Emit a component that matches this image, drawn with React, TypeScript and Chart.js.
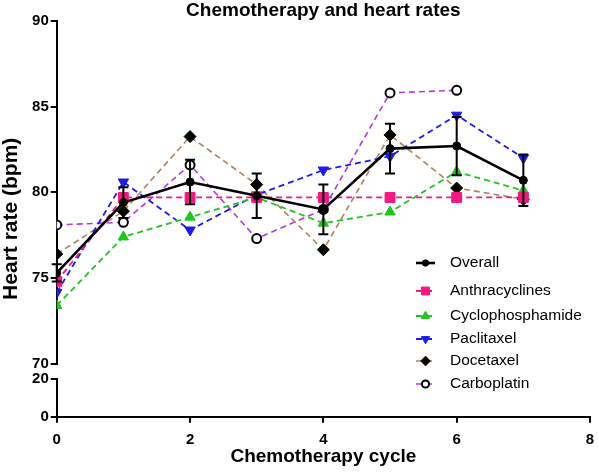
import React, { useEffect, useRef } from 'react';
import { Chart, registerables } from 'chart.js';
import { drawPoint } from 'chart.js/helpers';

Chart.register(...registerables);

const FONT = "'Liberation Sans', Arial, Helvetica, sans-serif";

const cycles = [0, 1, 2, 3, 4, 5, 6, 7];
const overall = [75.3, 79.4, 80.6, 79.8, 79.0, 82.55, 82.7, 80.7];
const overallErr = [0.5, 0.9, 1.3, 1.3, 1.45, 1.45, 1.7, 1.5];
const anthracyclines = [74.8, 79.7, 79.7, 79.7, 79.7, 79.7, 79.7, 79.7];
const cyclophosphamide = [73.4, 77.4, 78.55, 79.7, 78.2, 78.85, 81.2, 80.1];
const paclitaxel = [74.15, 80.6, 77.8, 79.85, 81.3, 82.1, 84.5, 82.0];
const docetaxel = [76.4, 78.9, 83.25, 80.45, 76.65, 83.35, 80.25, 79.6];
const carboplatin = [78.1, 78.25, 81.6, 77.3, 79.0, 85.8, 85.95, null];

const xTickValues = [0, 2, 4, 6, 8];
const yUpperTickValues = [70, 75, 80, 85, 90];
const yLowerTickValues = [0, 20];

const seriesNames = ['Overall', 'Anthracyclines', 'Cyclophosphamide', 'Paclitaxel', 'Docetaxel', 'Carboplatin'];

const toPoints = (arr: (number | null)[]) =>
  cycles.map((x, i) => ({ x, y: arr[i] })).filter((p) => p.y !== null);

const errorBarPlugin = {
  id: 'errorBars',
  afterDatasetsDraw(chart: any) {
    const { ctx } = chart;
    const xs = chart.scales.x;
    const ys = chart.scales.y;
    ctx.save();
    ctx.strokeStyle = '#000';
    ctx.lineWidth = 2;
    ctx.setLineDash([]);
    overall.forEach((v, i) => {
      const e = overallErr[i];
      const px = xs.getPixelForValue(cycles[i]);
      const top = ys.getPixelForValue(v + e);
      const bot = ys.getPixelForValue(v - e);
      ctx.beginPath();
      ctx.moveTo(px, top);
      ctx.lineTo(px, bot);
      ctx.moveTo(px - 5, top);
      ctx.lineTo(px + 5, top);
      ctx.moveTo(px - 5, bot);
      ctx.lineTo(px + 5, bot);
      ctx.stroke();
    });
    ctx.restore();
  },
};

const legendPlugin = {
  id: 'customLegend',
  afterDraw(chart: any) {
    const { ctx } = chart;
    const rows = [263, 291, 316, 339, 361, 384];
    ctx.save();
    chart.data.datasets.forEach((ds: any, i: number) => {
      const y = rows[i];
      ctx.beginPath();
      ctx.strokeStyle = ds.borderColor;
      ctx.lineWidth = ds.borderWidth;
      ctx.setLineDash(ds.borderDash || []);
      ctx.moveTo(416, y);
      ctx.lineTo(435, y);
      ctx.stroke();
      ctx.setLineDash([]);
      ctx.fillStyle = ds.pointBackgroundColor;
      ctx.strokeStyle = ds.pointBorderColor;
      ctx.lineWidth = ds.pointBorderWidth;
      drawPoint(ctx, {
        pointStyle: ds.pointStyle,
        rotation: ds.pointRotation || 0,
        radius: ds.pointRadius * 0.8,
        borderWidth: ds.pointBorderWidth,
      }, 425.5, y);
      ctx.fillStyle = '#000';
      ctx.font = `15.5px ${FONT}`;
      ctx.textBaseline = 'middle';
      ctx.textAlign = 'left';
      ctx.fillText(ds.label, 450, y);
    });
    ctx.restore();
  },
};

const tickFont = { family: FONT, size: 15, weight: 'bold' as const };

export default function App() {
  const ref = useRef<HTMLCanvasElement | null>(null);
  useEffect(() => {
    document.body.style.margin = '0';
    if (!ref.current) return;
    const dashed = [6, 4];
    const chart = new Chart(ref.current, {
      type: 'line',
      data: {
        datasets: [
          {
            label: seriesNames[0], data: toPoints(overall), yAxisID: 'y',
            borderColor: '#000', borderWidth: 2.6, pointStyle: 'circle', pointRadius: 4,
            pointBackgroundColor: '#000', pointBorderColor: '#000', pointBorderWidth: 1,
          },
          {
            label: seriesNames[1], data: toPoints(anthracyclines), yAxisID: 'y',
            borderColor: '#f01a80', borderWidth: 1.8, borderDash: dashed, pointStyle: 'rect', pointRadius: 7,
            pointBackgroundColor: '#f01a80', pointBorderColor: '#f01a80', pointBorderWidth: 1,
          },
          {
            label: seriesNames[2], data: toPoints(cyclophosphamide), yAxisID: 'y',
            borderColor: '#22c422', borderWidth: 1.8, borderDash: dashed, pointStyle: 'triangle', pointRadius: 6,
            pointBackgroundColor: '#22c422', pointBorderColor: '#22c422', pointBorderWidth: 1,
          },
          {
            label: seriesNames[3], data: toPoints(paclitaxel), yAxisID: 'y',
            borderColor: '#1c1ce6', borderWidth: 1.8, borderDash: dashed, pointStyle: 'triangle', pointRotation: 180, pointRadius: 6,
            pointBackgroundColor: '#1c1ce6', pointBorderColor: '#1c1ce6', pointBorderWidth: 1,
          },
          {
            label: seriesNames[4], data: toPoints(docetaxel), yAxisID: 'y',
            borderColor: '#a8845a', borderWidth: 1.6, borderDash: dashed, pointStyle: 'rectRot', pointRadius: 6,
            pointBackgroundColor: '#000', pointBorderColor: '#000', pointBorderWidth: 1,
          },
          {
            label: seriesNames[5], data: toPoints(carboplatin), yAxisID: 'y',
            borderColor: '#b03ce0', borderWidth: 1.6, borderDash: dashed, pointStyle: 'circle', pointRadius: 4.5,
            pointBackgroundColor: '#fff', pointBorderColor: '#000', pointBorderWidth: 2,
          },
        ] as any,
      },
      options: {
        responsive: false,
        animation: false,
        devicePixelRatio: 1,
        layout: { padding: { left: 0, right: 0, top: 0, bottom: 0 } },
        plugins: {
          legend: { display: false },
          tooltip: { enabled: false },
          title: {
            display: true,
            text: 'Chemotherapy and heart rates',
            color: '#000',
            fullSize: false,
            font: { family: FONT, size: 19, weight: 'bold', lineHeight: 1.1 },
            padding: { top: 0, bottom: 0 },
          },
        },
        scales: {
          x: {
            type: 'linear', min: 0, max: 8,
            afterBuildTicks: (s: any) => { s.ticks = xTickValues.map((v) => ({ value: v })); },
            ticks: { color: '#000', font: { ...tickFont, lineHeight: 2.3 }, padding: 0 },
            grid: { display: true, drawOnChartArea: false, drawTicks: true, tickLength: 6, color: '#000', lineWidth: 2 },
            border: { display: true, color: '#000', width: 2 },
            title: {
              display: true, text: 'Chemotherapy cycle', color: '#000',
              font: { family: FONT, size: 19, weight: 'bold' }, padding: { top: -12, bottom: 7 },
            },
          },
          y0: {
            type: 'linear', position: 'left', stack: 'hr', stackWeight: 38, min: 0, max: 20,
            afterBuildTicks: (s: any) => { s.ticks = yLowerTickValues.map((v) => ({ value: v })); },
            ticks: { color: '#000', font: tickFont, padding: 2 },
            grid: { display: true, drawOnChartArea: false, drawTicks: true, tickLength: 6, color: '#000', lineWidth: 2 },
            border: { display: true, color: '#000', width: 2 },
          },
          yGap: {
            type: 'linear', position: 'left', stack: 'hr', stackWeight: 15, min: 0, max: 1,
            ticks: { display: false },
            grid: { display: false },
            border: { display: false },
          },
          y: {
            type: 'linear', position: 'left', stack: 'hr', stackWeight: 343, min: 70, max: 90,
            afterBuildTicks: (s: any) => { s.ticks = yUpperTickValues.map((v) => ({ value: v })); },
            ticks: { color: '#000', font: tickFont, padding: 2 },
            grid: { display: true, drawOnChartArea: false, drawTicks: true, tickLength: 6, color: '#000', lineWidth: 2 },
            border: { display: true, color: '#000', width: 2 },
          },
          yTitle: {
            type: 'linear', position: 'left', weight: 1, min: 0, max: 1,
            ticks: { display: false },
            grid: { display: false },
            border: { display: false },
            title: {
              display: true, text: 'Heart rate (bpm)', color: '#000',
              font: { family: FONT, size: 21, weight: 'bold', lineHeight: 1.05 }, padding: { top: 0, bottom: 0 },
            },
          },
        } as any,
      },
      plugins: [errorBarPlugin, legendPlugin],
    });
    return () => chart.destroy();
  }, []);
  return (
    <div style={{ width: 598, height: 475 }}>
      <canvas ref={ref} width={598} height={475} style={{ display: 'block' }} />
    </div>
  );
}
